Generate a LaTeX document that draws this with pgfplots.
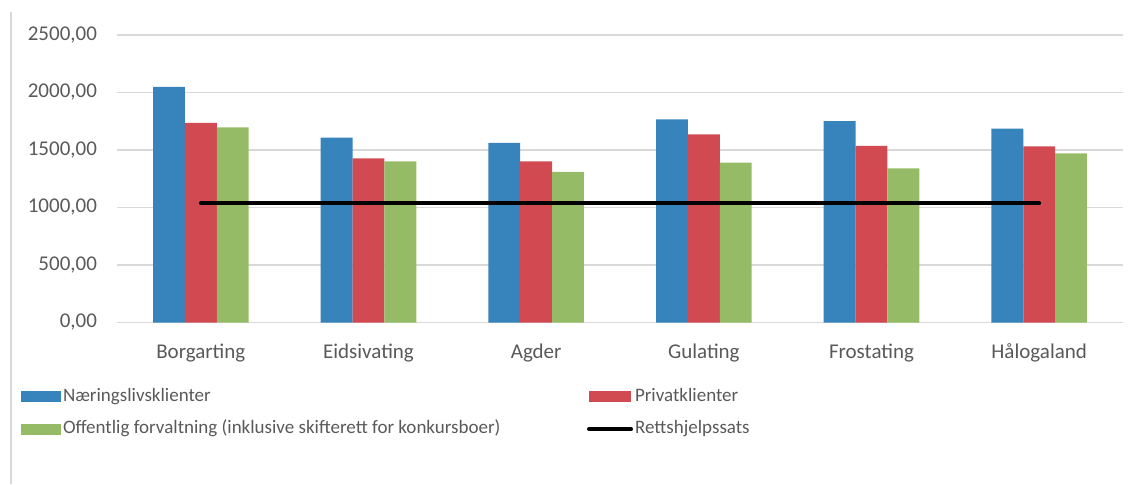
\documentclass[border=0pt]{standalone}
\usepackage{fontspec}
\setmainfont{Carlito}
\usepackage{pgfplots}
\pgfplotsset{compat=1.18}

\definecolor{cblue}{RGB}{55,131,187}
\definecolor{cred}{RGB}{209,74,82}
\definecolor{cgreen}{RGB}{150,187,102}
\definecolor{txtgray}{RGB}{89,89,89}
\definecolor{gridgray}{RGB}{217,217,217}

\begin{document}
\begin{tikzpicture}
\useasboundingbox (0,0) rectangle (567pt,242pt);
\draw[gridgray, line width=0.8pt] (5.5pt,0) -- (5.5pt,236pt);
\begin{axis}[
    at={(58.5pt,80.75pt)}, anchor=south west,
    scale only axis,
    width=503pt, height=143.75pt,
    xmin=-0.5, xmax=5.5,
    ymin=0, ymax=2500,
    ytick={0,500,...,2500},
    xtick={0,...,5},
    xticklabels={Borgarting,Eidsivating,Agder,Gulating,Frostating,Hålogaland},
    axis line style={draw=none},
    major tick length=0pt,
    ymajorgrids,
    grid style={gridgray, line width=0.8pt},
    font=\fontsize{10.5}{12.6}\selectfont,
    tick label style={txtgray},
    yticklabel style={xshift=-6.5pt},
    xticklabel style={yshift=-7pt},
    /pgf/number format/.cd, fixed, fixed zerofill, precision=2, use comma, 1000 sep={}, assume math mode=true,
    /pgfplots/.cd,
    ybar, bar width=0.19,
    legend columns=2,
    legend cell align=left,
    legend style={
        at={(axis description cs:-0.0954,-0.225)}, anchor=north west,
        draw=none, fill=none, inner sep=0pt, outer sep=0pt,
        font=\fontsize{9.5}{11.4}\selectfont, text=txtgray,
        row sep=7pt, column sep=0pt,
        nodes={inner xsep=1pt, inner ysep=0pt, text height=7pt, text depth=2.3pt},
    },
    area legend,
]
\addplot[fill=cblue, draw=none, bar shift=-0.19,
    legend image code/.code={\fill[cblue] (0pt,-2.75pt) rectangle (20pt,2.75pt);}]
    coordinates {(0,2050) (1,1607) (2,1561) (3,1767) (4,1752) (5,1685)};
\addlegendentry{Næringslivsklienter}
\addplot[fill=cred, draw=none, bar shift=0,
    legend image code/.code={\fill[cred] (0pt,-2.75pt) rectangle (21pt,2.75pt);}]
    coordinates {(0,1737) (1,1428) (2,1402) (3,1637) (4,1537) (5,1532)};
\addlegendentry{Privatklienter}
\addplot[fill=cgreen, draw=none, bar shift=0.19,
    legend image code/.code={\fill[cgreen] (0pt,-2.75pt) rectangle (20pt,2.75pt);}]
    coordinates {(0,1697) (1,1402) (2,1309) (3,1390) (4,1341) (5,1471)};
\addlegendentry{\makebox[261pt][l]{Offentlig forvaltning (inklusive skifterett for konkursboer)}}
\addplot[sharp plot, black, line width=2pt, line cap=round, bar shift=0,
    legend image code/.code={\draw[black, line width=2pt, line cap=round] (0pt,0pt) -- (21pt,0pt);}]
    coordinates {(0,1037) (5,1037)};
\addlegendentry{Rettshjelpssats}
\end{axis}
\end{tikzpicture}
\end{document}
